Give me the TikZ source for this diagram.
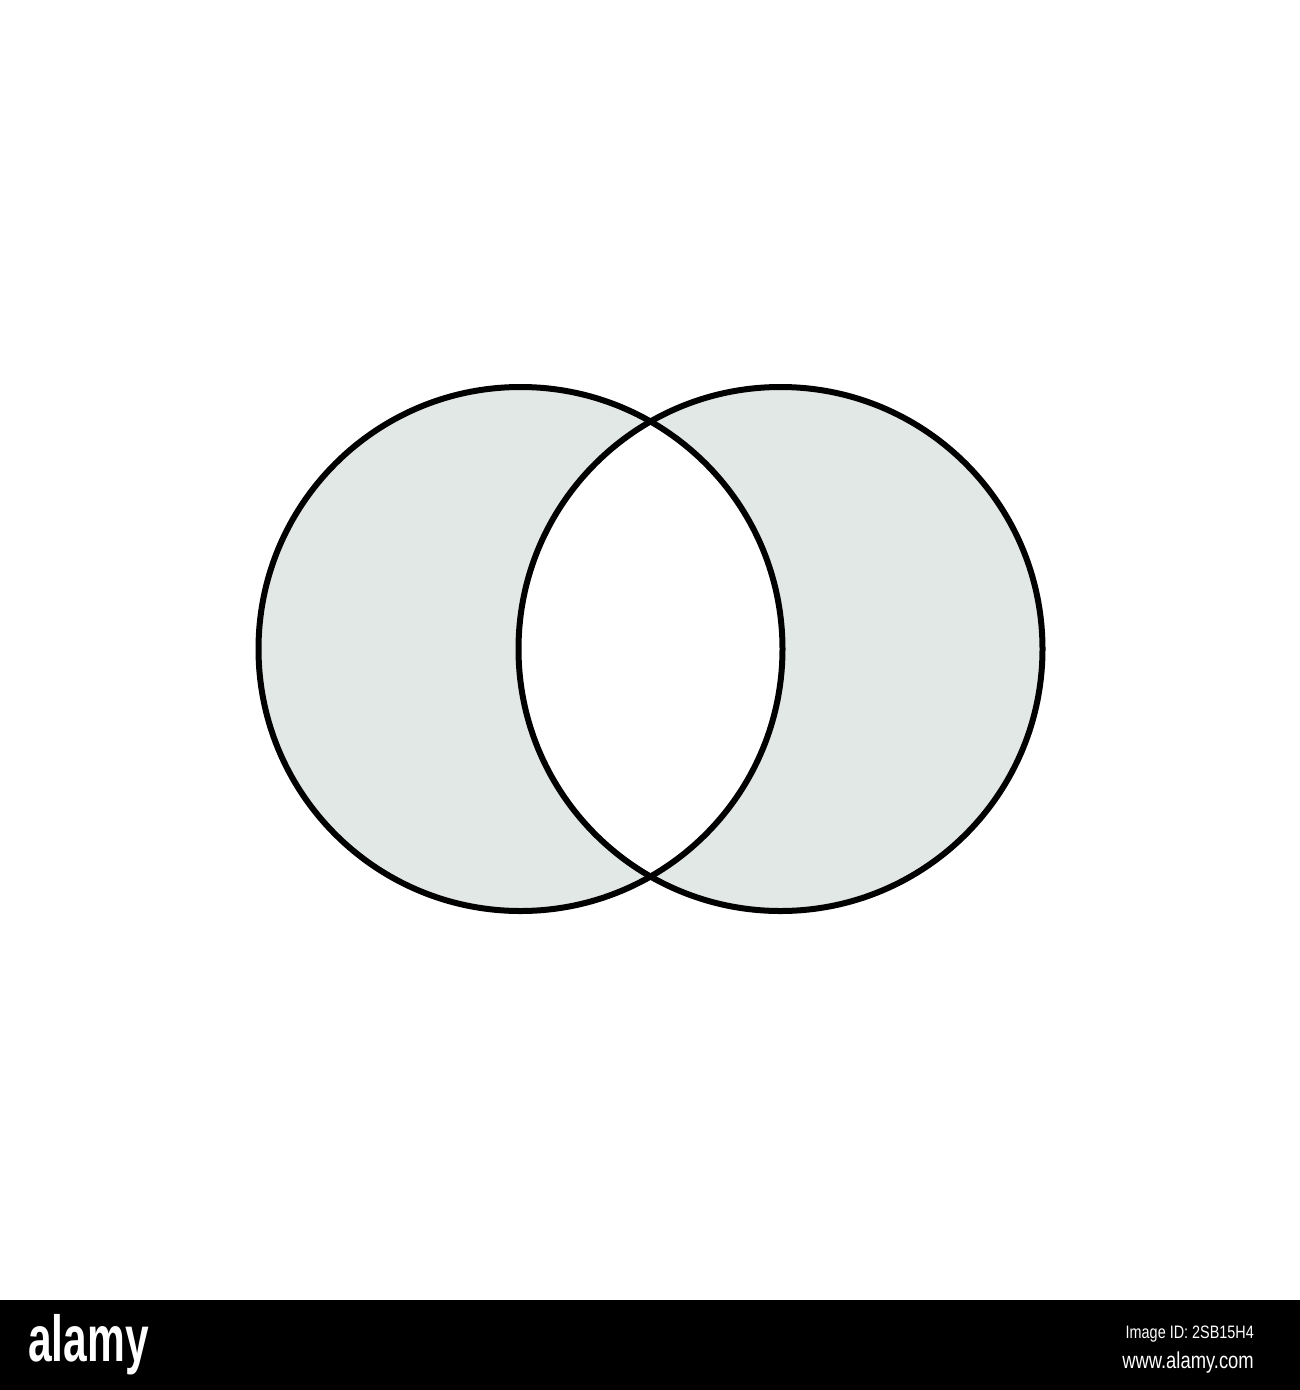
\documentclass[tikz,border=0pt]{standalone}
\usepackage{fontspec}
\setmainfont{Liberation Sans}
\definecolor{vennfill}{HTML}{E2E8E6}
\begin{document}
\begin{tikzpicture}[x=1pt,y=-1pt,
  ring/.style={draw=black,line width=6pt},
  wm/.style={text=white,inner sep=0pt}]
\useasboundingbox (0,0) rectangle (1300,1390);
\fill[white] (0,0) rectangle (1300,1390);
\coordinate (A) at (520.5,649);
\coordinate (B) at (780.5,649);
% shaded symmetric difference
\fill[vennfill] (A) circle[radius=262];
\fill[vennfill] (B) circle[radius=262];
\begin{scope}
  \clip (A) circle[radius=262];
  \fill[white] (B) circle[radius=262];
\end{scope}
\draw[ring] (A) circle[radius=262];
\draw[ring] (B) circle[radius=262];
% watermark bar
\fill[black] (0,1300) rectangle (1300,1390);
\node[wm,anchor=west] (logo) at (28,1345) {\scalebox{0.85}[1.3]{\fontsize{50}{50}\selectfont\bfseries alamy}};
\node[wm,anchor=east] (imgid) at (1254,1334) {\scalebox{0.8}[1]{\fontsize{18}{18}\selectfont Image ID: 2SB15H4}};
\node[wm,anchor=east] (url) at (1254,1363) {\scalebox{0.8}[1]{\fontsize{23}{23}\selectfont www.alamy.com}};
\end{tikzpicture}
\end{document}
